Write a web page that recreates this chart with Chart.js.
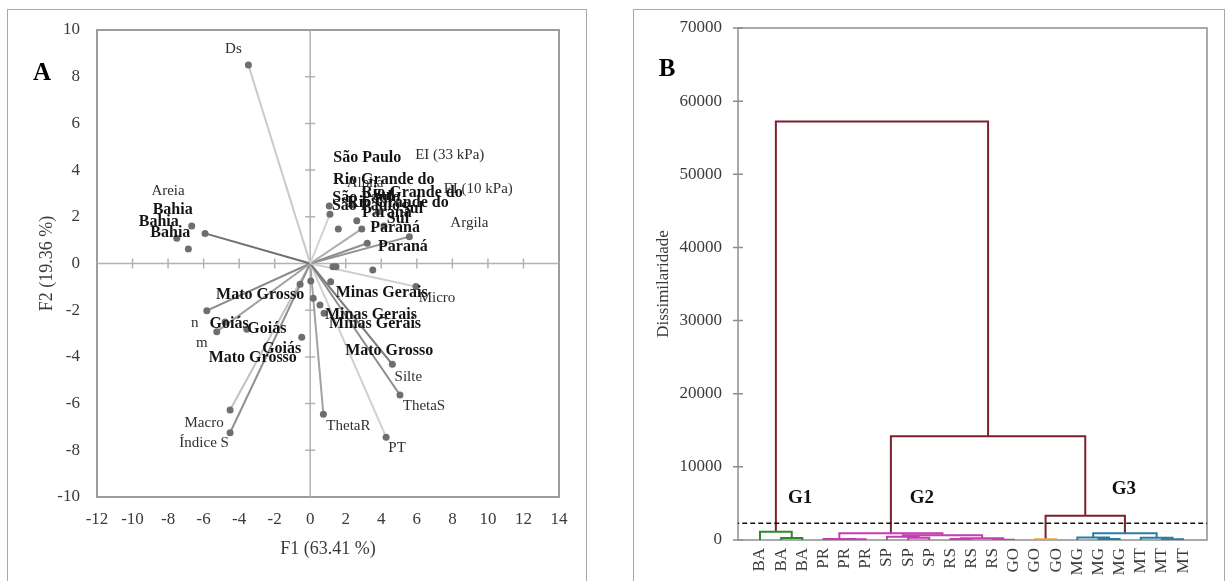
<!DOCTYPE html>
<html>
<head>
<meta charset="utf-8">
<script src="https://cdn.jsdelivr.net/npm/chart.js@4/dist/chart.umd.min.js"></script>
<style>
  html, body { margin: 0; padding: 0; background: #fff; }
  body { width: 1225px; height: 581px; position: relative; overflow: hidden; }
  .frame { position: absolute; border: 1.5px solid #a8a8a8; box-sizing: border-box; }
  canvas { position: absolute; top: 0; }
</style>
</head>
<body>
<div class="frame" style="left:7px;top:9px;width:580px;height:600px"></div>
<div class="frame" style="left:633px;top:9px;width:592px;height:600px"></div>
<canvas id="pca" width="600" height="581" style="left:0"></canvas>
<canvas id="dendro" width="605" height="581" style="left:620px"></canvas>
<script>
// ---------- Panel A: PCA biplot ----------
// Variable loadings (vectors from the origin)
const varNames = ['Ds', 'Areia', 'Alpha', 'EI (33 kPa)', 'EI (10 kPa)', 'Argila', 'Micro', 'Silte',
                  'ThetaS', 'PT', 'ThetaR', 'Índice S', 'Macro', 'm', 'n'];
const varF1 = [-3.48, -5.92, 1.11, 2.90, 3.21, 5.58, 5.95, 4.62, 5.05, 4.27, 0.74, -4.51, -4.51, -5.26, -5.82];
const varF2 = [8.50, 1.29, 2.11, 1.48, 0.87, 1.15, -0.99, -4.32, -5.63, -7.44, -6.46, -7.25, -6.27, -2.92, -2.02];

// Observation scores (states)
const obsNames = ['Bahia', 'Bahia', 'Bahia', 'São Paulo', 'São Paulo', 'São Paulo',
                  'Rio Grande do Sul', 'Rio Grande do Sul', 'Rio Grande do Sul', 'Paraná', 'Paraná', 'Paraná',
                  'Mato Grosso', 'Mato Grosso', 'Mato Grosso', 'Goiás', 'Goiás', 'Goiás',
                  'Minas Gerais', 'Minas Gerais', 'Minas Gerais'];
const obsF1 = [-6.67, -7.51, -6.86, 1.07, 1.58, 1.28, 2.62, 1.45, 2.35, 3.52, 3.82, 4.15,
               -0.57, 0.03, 0.17, -4.79, -3.57, -0.48, 1.15, 0.55, 0.78];
const obsF2 = [1.61, 1.08, 0.62, 2.46, 1.48, -0.14, 1.83, -0.14, 2.51, -0.28, 2.21, 1.61,
               -0.89, -0.75, -1.49, -2.51, -2.82, -3.16, -0.78, -1.78, -2.13];

const pcaXTicks = [-12, 14, 2];   // min, max, step
const pcaYTicks = [-10, 10, 2];

// Label placement nudges (pixels from each point) and vector shades
const varLabelNudge = [[-15,-16],[-37,-42],[35,-31],[88,-74],[111,-54],[60,-14],[21,11],[16,13],
                       [24,11],[11,11],[25,12],[-26,10],[-26,13],[-15,11],[-12,12]];
const varLineColor = ['#c9c9c9','#6f6f6f','#d2d2d2','#adadad','#8e8e8e','#939393','#cdcdcd','#7c7c7c',
                      '#8c8c8c','#d0d0d0','#a2a2a2','#909090','#c2c2c2','#a0a0a0','#8a8a8a'];
const obsLabelNudge = [[-19,-16],[-18,-16],[-18,-16],[38,-48],[28,-31],[33,-61],
                       [27,-41],[76,-74],[46,-2],[14,-57],[17,16],[19,21],
                       [-40,11],[-58,77],[76,53],[4,2],[20,0],[-20,12],
                       [51,11],[51,10],[51,11]];

const SERIF = '"Liberation Serif", "Times New Roman", serif';
const TICK_COLOR = '#3a3a3a';

function wrapWords(ctx, text, maxW) {
  const words = text.split(' ');
  const lines = [];
  let cur = '';
  words.forEach(w => {
    const test = cur ? cur + ' ' + w : w;
    if (cur && ctx.measureText(test).width > maxW) { lines.push(cur); cur = w; }
    else cur = test;
  });
  if (cur) lines.push(cur);
  return lines;
}

const pcaDecor = {
  id: 'pcaDecor',
  beforeDatasetsDraw(chart) {
    const { ctx, chartArea: a, scales: { x, y } } = chart;
    ctx.save();
    ctx.strokeStyle = '#9c9c9c';
    ctx.lineWidth = 2;
    ctx.strokeRect(a.left, a.top, a.right - a.left, a.bottom - a.top);
    const x0 = x.getPixelForValue(0), y0 = y.getPixelForValue(0);
    ctx.strokeStyle = '#b2b2b2';
    ctx.lineWidth = 1.5;
    ctx.beginPath();
    ctx.moveTo(a.left, y0); ctx.lineTo(a.right, y0);
    ctx.moveTo(x0, a.top); ctx.lineTo(x0, a.bottom);
    x.ticks.forEach(t => {
      if (t.value === 0 || t.value === x.min || t.value === x.max) return;
      const p = x.getPixelForValue(t.value);
      ctx.moveTo(p, y0 - 5); ctx.lineTo(p, y0 + 5);
    });
    y.ticks.forEach(t => {
      if (t.value === 0 || t.value === y.min || t.value === y.max) return;
      const p = y.getPixelForValue(t.value);
      ctx.moveTo(x0 - 5, p); ctx.lineTo(x0 + 5, p);
    });
    ctx.stroke();
    ctx.restore();
  },
  afterDatasetsDraw(chart) {
    const { ctx, scales: { x, y } } = chart;
    ctx.save();
    ctx.textAlign = 'center';
    ctx.textBaseline = 'middle';
    ctx.font = '15px ' + SERIF;
    ctx.fillStyle = '#303030';
    varNames.forEach((n, i) => {
      const px = x.getPixelForValue(varF1[i]) + varLabelNudge[i][0];
      const py = y.getPixelForValue(varF2[i]) + varLabelNudge[i][1];
      ctx.fillText(n, px, py);
    });
    ctx.font = 'bold 16px ' + SERIF;
    ctx.fillStyle = '#141414';
    obsNames.forEach((n, i) => {
      const px = x.getPixelForValue(obsF1[i]) + obsLabelNudge[i][0];
      const py = y.getPixelForValue(obsF2[i]) + obsLabelNudge[i][1];
      wrapWords(ctx, n, 110).forEach((line, k) => ctx.fillText(line, px, py + k * 16));
    });
    ctx.font = 'bold 25px ' + SERIF;
    ctx.fillStyle = '#000';
    ctx.fillText('A', 42, 74);
    ctx.restore();
  }
};

const vectorSets = varNames.map((n, i) => ({
  label: n,
  data: [{ x: 0, y: 0 }, { x: varF1[i], y: varF2[i] }],
  showLine: true,
  borderColor: varLineColor[i],
  borderWidth: 2,
  pointRadius: [0, 3.5],
  pointBackgroundColor: '#6e6e6e',
  pointBorderWidth: 0
}));
const obsSet = {
  label: 'obs',
  data: obsF1.map((v, i) => ({ x: v, y: obsF2[i] })),
  showLine: false,
  pointRadius: 3.5,
  pointBackgroundColor: '#6e6e6e',
  pointBorderWidth: 0
};

new Chart(document.getElementById('pca'), {
  type: 'scatter',
  data: { datasets: [obsSet, ...vectorSets] },
  options: {
    responsive: false, animation: false, devicePixelRatio: 1,
    layout: { padding: { top: 30, right: 41, left: 0, bottom: 0 } },
    plugins: { legend: { display: false }, tooltip: { enabled: false } },
    scales: {
      x: {
        type: 'linear', min: pcaXTicks[0], max: pcaXTicks[1],
        afterFit: s => { s.height = 84; },
        grid: { display: false, drawTicks: false }, border: { display: false },
        ticks: { stepSize: pcaXTicks[2], padding: 12, color: TICK_COLOR, font: { family: SERIF, size: 17 } },
        title: { display: true, text: 'F1 (63.41 %)', color: '#3a3a3a',
                 font: { family: SERIF, size: 18 }, padding: { top: 0, bottom: 21 } }
      },
      y: {
        type: 'linear', min: pcaYTicks[0], max: pcaYTicks[1],
        afterFit: s => { s.width = 97; },
        grid: { display: false, drawTicks: false }, border: { display: false },
        ticks: { stepSize: pcaYTicks[2], padding: 17, color: TICK_COLOR, font: { family: SERIF, size: 17 } },
        title: { display: true, text: 'F2 (19.36 %)', color: '#3a3a3a',
                 font: { family: SERIF, size: 18 }, padding: { top: 36, bottom: 0 } }
      }
    }
  },
  plugins: [pcaDecor]
});

// ---------- Panel B: dendrogram ----------
const leafLabels = ['BA','BA','BA','PR','PR','PR','SP','SP','SP','RS','RS','RS',
                    'GO','GO','GO','MG','MG','MG','MT','MT','MT'];
// Agglomeration steps: [node a, node b, dissimilarity]; nodes 0-20 are leaves, 21+ are merges
const merges = [
  [1, 2, 270], [0, 21, 1135],
  [4, 5, 100], [3, 23, 150], [7, 8, 300], [6, 25, 450], [9, 10, 150], [11, 12, 50],
  [27, 28, 250], [26, 29, 650], [24, 30, 915],
  [13, 14, 100],
  [16, 17, 150], [15, 33, 350], [19, 20, 100], [18, 35, 300], [34, 36, 915],
  [32, 37, 3330], [31, 38, 14200], [22, 39, 57200]
];
const mergeGroup = ['G1','G1','G2','G2','G2','G2','G2','G2','G2','G2','G2','GO','G3','G3','G3','G3','G3',
                    'top','top','top'];
const cutHeight = 2300;
const groupNames = ['G1', 'G2', 'G3'];
const groupNameX = [1.9, 7.65, 17.2];
const groupNameY = [5750, 5750, 6950];
const dendroYTicks = [0, 70000, 10000];

const groupColor = { G1: '#2b8a2b', G2: '#c63db3', GO: '#f2a03c', G3: '#2a7ca6', top: '#7a2230' };

const nodePos = leafLabels.map((_, i) => i);
const nodeH = leafLabels.map(() => 0);
merges.forEach(([a, b, h]) => { nodePos.push((nodePos[a] + nodePos[b]) / 2); nodeH.push(h); });

const linkSets = merges.map(([a, b, h], k) => ({
  label: 'link' + k,
  data: [{ x: nodePos[a], y: nodeH[a] }, { x: nodePos[a], y: h }, { x: nodePos[b], y: h }, { x: nodePos[b], y: nodeH[b] }],
  showLine: true,
  borderColor: groupColor[mergeGroup[k]],
  borderWidth: 2,
  pointRadius: 0,
  borderJoinStyle: 'miter'
}));
const cutSet = {
  label: 'cut',
  data: [{ x: -5, y: cutHeight }, { x: 30, y: cutHeight }],
  showLine: true, borderColor: '#111', borderWidth: 1.6, borderDash: [5, 3], pointRadius: 0
};

const dendroDecor = {
  id: 'dendroDecor',
  beforeDatasetsDraw(chart) {
    const { ctx, chartArea: a, scales: { y } } = chart;
    ctx.save();
    ctx.strokeStyle = '#8e8e8e';
    ctx.lineWidth = 1.5;
    ctx.strokeRect(a.left, a.top, a.right - a.left, a.bottom - a.top);
    ctx.beginPath();
    y.ticks.forEach(t => {
      const p = y.getPixelForValue(t.value);
      ctx.moveTo(a.left - 5, p); ctx.lineTo(a.left + 5, p);
    });
    ctx.stroke();
    ctx.restore();
  },
  afterDatasetsDraw(chart) {
    const { ctx, scales: { x, y } } = chart;
    ctx.save();
    ctx.textAlign = 'center';
    ctx.textBaseline = 'middle';
    ctx.fillStyle = '#111';
    ctx.font = 'bold 19px ' + SERIF;
    groupNames.forEach((g, i) => ctx.fillText(g, x.getPixelForValue(groupNameX[i]), y.getPixelForValue(groupNameY[i])));
    ctx.font = 'bold 25px ' + SERIF;
    ctx.fillStyle = '#000';
    ctx.fillText('B', 47, 70);
    ctx.restore();
  }
};

new Chart(document.getElementById('dendro'), {
  type: 'scatter',
  data: { datasets: [cutSet, ...linkSets] },
  options: {
    responsive: false, animation: false, devicePixelRatio: 1,
    layout: { padding: { top: 28, right: 18, left: 0, bottom: 0 } },
    plugins: { legend: { display: false }, tooltip: { enabled: false } },
    scales: {
      x: {
        type: 'linear', min: -1.04, max: 21.13,
        afterFit: s => { s.height = 41; },
        afterBuildTicks: s => { s.ticks = leafLabels.map((_, i) => ({ value: i })); },
        grid: { display: false, drawTicks: false }, border: { display: false },
        ticks: { autoSkip: false, minRotation: 90, maxRotation: 90, padding: 8,
                 color: TICK_COLOR, font: { family: SERIF, size: 17 },
                 callback: v => leafLabels[v] }
      },
      y: {
        type: 'linear', min: dendroYTicks[0], max: dendroYTicks[1],
        afterFit: s => { s.width = 118; },
        grid: { display: false, drawTicks: false }, border: { display: false },
        ticks: { stepSize: dendroYTicks[2], padding: 16, color: TICK_COLOR, font: { family: SERIF, size: 17 },
                 callback: v => String(v) },
        title: { display: true, text: 'Dissimilaridade', color: '#3a3a3a',
                 font: { family: SERIF, size: 17 }, padding: { top: 33, bottom: 0 } }
      }
    }
  },
  plugins: [dendroDecor]
});
</script>
</body>
</html>
